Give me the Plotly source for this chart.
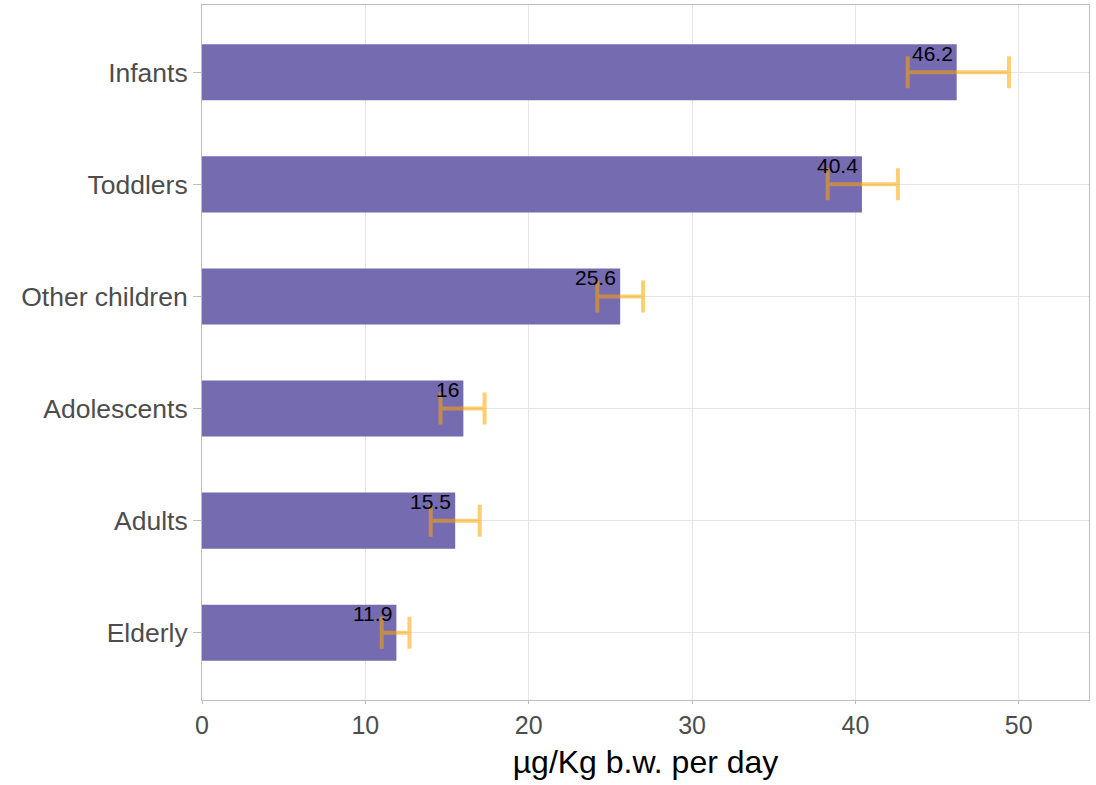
import plotly.graph_objects as go

categories = ["Elderly", "Adults", "Adolescents", "Other children", "Toddlers", "Infants"]
values = [11.9, 15.5, 16.0, 25.6, 40.4, 46.2]
lower = [11.0, 14.0, 14.6, 24.2, 38.3, 43.2]
upper = [12.7, 17.0, 17.3, 27.0, 42.6, 49.4]
labels = ["11.9", "15.5", "16", "25.6", "40.4", "46.2"]
x_ticks = [0, 10, 20, 30, 40, 50]

err_plus = [u - v for u, v in zip(upper, values)]
err_minus = [v - l for v, l in zip(values, lower)]

fig = go.Figure()
fig.add_trace(go.Bar(
    x=values, y=categories, orientation="h",
    marker=dict(color="#756bb1", line=dict(width=0)),
    width=0.5, showlegend=False, hoverinfo="x+y",
))
fig.add_trace(go.Scatter(
    x=values, y=categories, mode="markers",
    marker=dict(size=0.1, color="rgba(0,0,0,0)"),
    error_x=dict(type="data", symmetric=False, array=err_plus, arrayminus=err_minus,
                 color="rgba(255,165,0,0.55)", thickness=4, width=16),
    showlegend=False, hoverinfo="skip",
))
for v, c, t in zip(values, categories, labels):
    fig.add_annotation(x=v, y=c, text=t, showarrow=False, xanchor="right", yanchor="middle",
                       xshift=-2, yshift=19, font=dict(size=21, color="black",
                                                       family="Liberation Sans, Arial, sans-serif"))

fig.update_layout(
    width=1096, height=785,
    margin=dict(l=202, r=7, t=5, b=85),
    plot_bgcolor="white", paper_bgcolor="white",
    font=dict(family="Liberation Sans, Arial, sans-serif"),
    bargap=0.5,
)
fig.update_xaxes(
    range=[0, 54.3], tickvals=x_ticks, ticktext=[str(t) for t in x_ticks],
    showgrid=True, gridcolor="#e5e5e5", gridwidth=1,
    showline=True, linecolor="#bdbdbd", mirror=True, zeroline=False,
    ticks="outside", ticklen=3, tickcolor="#bdbdbd",
    tickfont=dict(size=25, color="#4d4d4d"),
    title=dict(text="µg/Kg b.w. per day", font=dict(size=32, color="black"), standoff=12),
)
fig.update_yaxes(
    categoryorder="array", categoryarray=categories, range=[-0.6, 5.6],
    showgrid=True, gridcolor="#e5e5e5", gridwidth=1,
    showline=True, linecolor="#bdbdbd", mirror=True,
    ticks="outside", ticklen=8, tickcolor="#bdbdbd",
    tickfont=dict(size=26.5, color="#4d4d4d"),
)
fig.write_html("out.html")
